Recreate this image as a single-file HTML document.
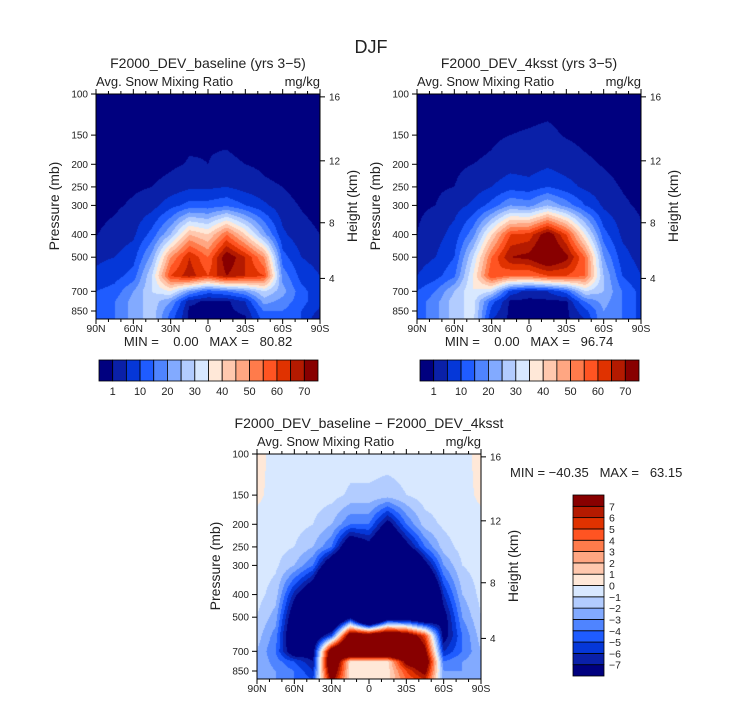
<!DOCTYPE html>
<html><head><meta charset="utf-8">
<style>
body{margin:0;background:#fff;width:733px;height:703px;overflow:hidden;position:relative;font-family:"Liberation Sans",sans-serif}
canvas{position:absolute}
svg{position:absolute;left:0;top:0}
text{font-family:"Liberation Sans",sans-serif;fill:#222}
.pre{white-space:pre}
</style></head><body>
<canvas id="c1" width="224" height="225" style="left:96px;top:94px"></canvas>
<canvas id="c2" width="224" height="225" style="left:417px;top:94px"></canvas>
<canvas id="c3" width="224" height="225" style="left:257px;top:454px"></canvas>
<svg id="s" width="733" height="703">
<text x="371" y="53" font-size="18" text-anchor="middle">DJF</text>
</svg>
<script>
const lats=[90,75,60,45,30,15,0,-15,-30,-45,-60,-75,-90];
const plev=[100,150,200,250,300,400,500,600,700,775,850,925];
const baseline=[
[0,0,0,0,0,0,0,0,0,0,0,0,0],
[0,0,0,0,0,0.5,0.8,0.5,0,0,0,0,0],
[0,0,0,0,0.5,1.2,1,1.5,1,0.5,0,0,0],
[0,0,0.5,1,2,4,4,5,3,1.5,1,0,0],
[0,0.5,1.5,3,8,12,12,14,10,6,2,0.8,0],
[0.9,2,4,12,25,45,40,55,40,22,6,2,1],
[4,5,8,22,50,65,55,75,65,50,12,5,3],
[6,8,12,30,60,68,60,70,65,60,18,8,5],
[10,12,20,30,35,20,12,15,20,30,22,12,6],
[10,15,22,28,20,2,0,0,5,22,18,12,6],
[10,15,22,28,15,0,0,0,2,15,15,10,4],
[10,15,22,28,12,0,0,0,0,12,15,10,0]];
const ksst=[
[0,0,0,0,0,0,0,0,0,0,0,0,0],
[0,0,0,0,0.5,1,1.2,1.5,0.8,0.3,0,0,0],
[0,0,0.5,1,1.5,3,2.5,4,2.5,1.5,0.8,0,0],
[0,0.5,1,2.5,5,8,7,10,7,4,2,0.8,0],
[0.5,1,3,6,12,20,18,25,18,10,4,1.5,0.5],
[1,3,7,18,40,60,62,75,60,35,12,4,1.5],
[3,5,10,30,55,70,72,80,72,55,20,7,3],
[5,8,14,35,60,55,55,60,60,55,25,10,5],
[10,15,25,35,30,8,3,5,12,30,25,15,8],
[12,18,28,32,12,0,0,0,0,15,22,15,8],
[12,18,28,32,8,0,0,0,0,8,20,15,8],
[12,18,28,32,5,0,0,0,0,5,20,15,8]];
const diff=[
[0.5,-0.5,-0.5,-0.5,-0.5,-0.5,-0.5,-0.5,-0.5,-0.5,-0.5,-0.5,0.5],
[0.3,-0.5,-0.5,-0.5,-0.6,-1.2,-1.2,-1.5,-1,-0.5,-0.5,-0.5,0.3],
[-0.5,-0.5,-0.6,-1,-2,-4,-4,-8,-4,-1.5,-0.8,-0.5,-0.5],
[-0.5,-0.6,-1,-2,-4,-10,-8,-12,-8,-4,-1.5,-0.6,-0.5],
[-0.5,-0.8,-2,-4,-10,-15,-15,-20,-15,-8,-3,-1,-0.5],
[-0.6,-1.5,-6.5,-10,-20,-20,-25,-25,-20,-15,-6,-2,-0.7],
[-1,-2.5,-9,-12,-15,-8,-20,-10,-10,-12,-8,-3,-1],
[-1.5,-3.5,-10,-10,-5,10,10,12,10,5,-8,-4,-1.5],
[-2,-4,-9,-8,10,15,15,15,15,8,-6,-4,-2],
[-2,-3.5,-5,-7,12,0.5,0.5,0.5,8,10,-4,-3,-2],
[-2,-3,-4,-6,10,0.5,0.5,0.5,5,8,-3,-3,-2],
[-2,-3,-4,-5,8,0.5,0.5,0.5,4,6,-3,-3,-2]];
const absLevels=[1,5,10,15,20,25,30,35,40,45,50,55,60,65,70];
const absTickLabels=['1','10','20','30','40','50','60','70'];
const diffLevels=[-7,-6,-5,-4,-3,-2,-1,0,1,2,3,4,5,6,7];
const presTicks=[100,150,200,250,300,400,500,700,850];
const heightTicks=[4,8,12,16];
const latTicks=['90N','60N','30N','0','30S','60S','90S'];
const pal=['#00007f','#0a20a8','#0537d8','#1f5cff','#4f84ff','#82aaff','#b2ccff','#d8e8ff','#ffe8d8','#ffc8ae','#ffa682','#ff7b4b','#ff5422','#e03200','#b41a00','#880000'];

const W=224,H=225,K=101.4;
function yOfP(p){return K*Math.log(p/100);}
function pOfY(y){return 100*Math.exp(y/K);}
function xOfLat(l){return (90-l)/180*W;}
function pOfZ(z){return z<=11?1013.25*Math.pow(1-2.2558e-5*z*1000,5.2559):226.3*Math.exp(-(z-11)/6.3416);}
function val(g,x,y){
  let fi=x/W*12; fi=Math.max(0,Math.min(11.999,fi)); const i=Math.floor(fi),a=fi-i;
  const lp=Math.log(pOfY(y)); let j=0,b=0;
  if(lp>=Math.log(plev[11])){j=10;b=1;}
  else{for(j=0;j<11;j++){if(lp<=Math.log(plev[j+1]))break;} b=(lp-Math.log(plev[j]))/(Math.log(plev[j+1])-Math.log(plev[j]));}
  const v00=g[j][i],v01=g[j][i+1],v10=g[j+1][i],v11=g[j+1][i+1];
  return (v00*(1-a)+v01*a)*(1-b)+(v10*(1-a)+v11*a)*b;
}
function hex(c){return [parseInt(c.slice(1,3),16),parseInt(c.slice(3,5),16),parseInt(c.slice(5,7),16)];}
const palRGB=pal.map(hex);
function draw(id,g,levels){
  const ctx=document.getElementById(id).getContext('2d');
  const im=ctx.createImageData(W,H);
  for(let y=0;y<H;y++)for(let x=0;x<W;x++){
    const v=val(g,x+0.5,y+0.5);let k=0;while(k<levels.length&&v>=levels[k])k++;
    const c=palRGB[k],o=(y*W+x)*4;im.data[o]=c[0];im.data[o+1]=c[1];im.data[o+2]=c[2];im.data[o+3]=255;
  }
  ctx.putImageData(im,0,0);
}
draw('c1',baseline,absLevels);draw('c2',ksst,absLevels);draw('c3',diff,diffLevels);

const S=document.getElementById('s'),NS='http://www.w3.org/2000/svg';
function el(t,attrs,txt){const e=document.createElementNS(NS,t);for(const k in attrs)e.setAttribute(k,attrs[k]);if(txt!==undefined)e.textContent=txt;S.appendChild(e);return e;}
function axes(X,Y,title,pre){
  let e=el('text',{x:X+112,y:Y-26,'font-size':14,'text-anchor':'middle'},title);
  
  e=el('text',{x:X,y:Y-8,'font-size':13},'Avg. Snow Mixing Ratio');
  
  e=el('text',{x:X+W,y:Y-8,'font-size':13,'text-anchor':'end'},'mg/kg');
  
  e=el('rect',{x:X,y:Y,width:W,height:H,fill:'none',stroke:'#000','stroke-width':1});
  
  presTicks.forEach(p=>{const y=Y+yOfP(p);
    let t=el('line',{x1:X-5,x2:X,y1:y,y2:y,stroke:'#000'});
    
    t=el('text',{x:X-8,y:y+3.5,'font-size':10,'text-anchor':'end',fill:'#111'},String(p));
    });
  heightTicks.forEach(z=>{const y=Y+yOfP(pOfZ(z));
    let t=el('line',{x1:X+W,x2:X+W+5,y1:y,y2:y,stroke:'#000'});
    
    t=el('text',{x:X+W+9,y:y+3.5,'font-size':10,fill:'#111'},String(z));
    });
  for(let l=90;l>=-90;l-=10){const x=X+xOfLat(l),len=(l%30===0)?5:3;
    let t=el('line',{x1:x,x2:x,y1:Y-len,y2:Y,stroke:'#000'});
    
    t=el('line',{x1:x,x2:x,y1:Y+H,y2:Y+H+len,stroke:'#000'});
    }
  latTicks.forEach((s,i)=>{const t=el('text',{x:X+i*W/6,y:Y+H+13,'font-size':10.5,'text-anchor':'middle',fill:'#111'},s);
    });
  e=el('text',{x:0,y:0,'font-size':14,'text-anchor':'middle',transform:`translate(${X-37},${Y+112}) rotate(-90)`},'Pressure (mb)');
  
  e=el('text',{x:0,y:0,'font-size':14,'text-anchor':'middle',fill:'#333',transform:`translate(${X+W+37},${Y+112}) rotate(-90)`},'Height (km)');
  
}
axes(96,94,'F2000_DEV_baseline (yrs 3\u22125)','baseline');
axes(417,94,'F2000_DEV_4ksst (yrs 3\u22125)','ksst');
axes(257,454,'F2000_DEV_baseline \u2212 F2000_DEV_4ksst','diff');
let m=el('text',{x:208,y:346,'font-size':13,'text-anchor':'middle',class:'pre'},'MIN =    0.00   MAX =   80.82');

m=el('text',{x:529,y:346,'font-size':13,'text-anchor':'middle',class:'pre'},'MIN =    0.00   MAX =   96.74');

m=el('text',{x:510,y:477,'font-size':13,class:'pre'},'MIN = \u221240.35   MAX =   63.15');

function hbar(X,pre){const bw=219/16;
  pal.forEach((c,i)=>{const r=el('rect',{x:X+i*bw,y:360,width:bw,height:21,fill:c,stroke:'#000','stroke-width':0.8});
    });
  absTickLabels.forEach((s,i)=>{const t=el('text',{x:X+(2*i+1)*bw,y:395,'font-size':11,'text-anchor':'middle',fill:'#111'},s);
    });}
hbar(99,'baseline');hbar(420,'ksst');
const bh=181/16;
pal.forEach((c,i)=>{const r=el('rect',{x:573,y:676-(i+1)*bh,width:31,height:bh,fill:c,stroke:'#000','stroke-width':0.8});
  });
diffLevels.forEach((v,i)=>{const t=el('text',{x:609,y:676-(i+1)*bh+4,'font-size':10.5,fill:'#111'},v<0?'\u2212'+(-v):String(v));
  });
</script>
</body></html>
